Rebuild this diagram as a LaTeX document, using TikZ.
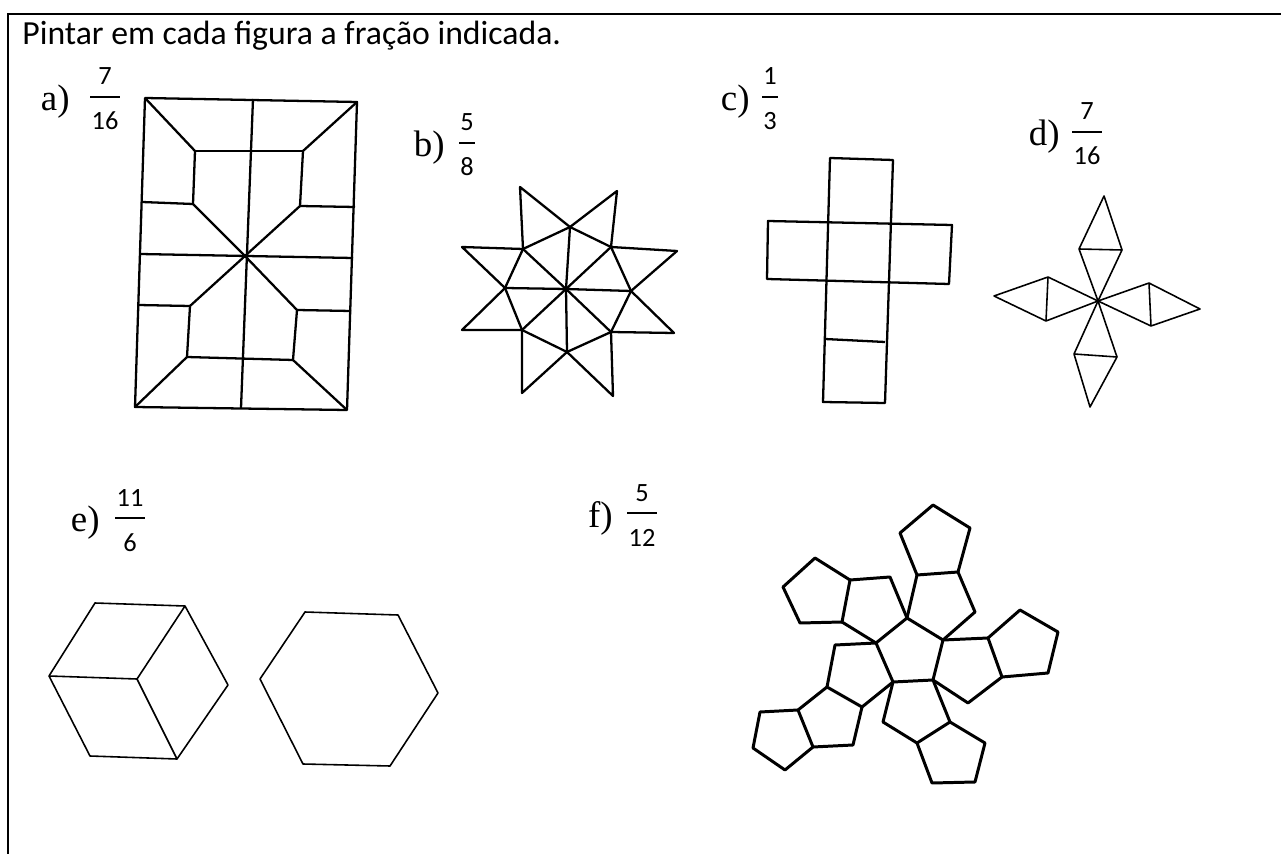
\documentclass[tikz,border=0pt]{standalone}
\usepackage{fontspec}
\setmainfont{Carlito}
\newfontfamily\lblfont{Liberation Serif}
\usetikzlibrary{calc, positioning}
\tikzset{
  frameline/.style = {line width=1.5pt, black},
  figline/.style   = {line width=1.3pt, black, line join=round},
  thinline/.style  = {line width=0.9pt, black, line join=round},
  boldline/.style  = {line width=1.7pt, black, line join=round},
  titlelbl/.style  = {font=\fontsize{19.2}{23}\selectfont, anchor=base west, inner sep=0pt},
  itemlbl/.style   = {font=\lblfont\fontsize{21}{24}\selectfont, anchor=base east, inner sep=0pt},
  fracdig/.style   = {font=\fontsize{15}{17}\selectfont, anchor=base, inner sep=0pt},
  fracbar/.style   = {font=\fontsize{15}{17}\selectfont, fill=black, inner ysep=0pt,
                      inner xsep=0.8pt, minimum height=0.7pt},
}
% #1 name, #2 x of letter end, #3/#4 bar centre, #5 letter, #6 numerator, #7 denominator
\newcommand{\fraclbl}[7]{%
  \node[itemlbl] (#1l) at (#2,#4+14) {#5)};
  \node[fracbar] (#1b) at (#3,#4) {\phantom{\vbox to 0pt{\hbox{#6}\hbox{#7}\vss}}};
  \node[fracdig] (#1n) at (#3,#4-12) {#6};
  \node[fracdig] (#1d) at (#3,#4+33) {#7};
}

\begin{document}
\begin{tikzpicture}[x=0.02cm, y=-0.02cm]
  \useasboundingbox (0,0) rectangle (1281,854);
  % frame
  \draw[frameline] (1281,14) -- (8,14) -- (8,854);
  \node[titlelbl] (title) at (22,45) {Pintar em cada figura a fração indicada.};
  % labels
  \fraclbl{a}{70}{105}{97}{a}{7}{16}
  \fraclbl{b}{445}{467}{143}{b}{5}{8}
  \fraclbl{c}{750}{770}{97}{c}{1}{3}
  \fraclbl{d}{1060}{1087}{132}{d}{7}{16}
  \fraclbl{e}{100}{130}{518}{e}{11}{6}
  \fraclbl{f}{613}{642}{513}{f}{5}{12}
  % a) rectangle
  \draw[figline] (145,98) -- (357,102) -- (347,410) -- (135,407) -- cycle;
  \draw[figline] (253,99) -- (241,408);
  \draw[figline] (140,254) -- (353,258);
  \draw[figline] (145,98) -- (195,151) -- (193,204) -- (245,256) -- (300,206) -- (303,151) -- (357,102);
  \draw[figline] (195,151) -- (303,151);
  \draw[figline] (142,202) -- (193,204);
  \draw[figline] (355,207) -- (300,206);
  \draw[figline] (135,407) -- (187,357) -- (190,306) -- (245,256) -- (297,310) -- (293,360) -- (347,410);
  \draw[figline] (187,357) -- (293,360);
  \draw[figline] (138,305) -- (190,306);
  \draw[figline] (351,311) -- (297,310);
  % b) star
  \draw[figline] (523,249) -- (520,187) -- (570,227) -- (617,191) -- (611,247) -- (677,251)
    -- (631,291) -- (674,333) -- (611,332) -- (613,396) -- (567,352) -- (522,393)
    -- (522,330) -- (462,330) -- (505,288) -- (462,247) -- cycle;
  \draw[figline] (570,227) -- (611,247) -- (631,291) -- (611,332) -- (567,352)
    -- (522,330) -- (505,288) -- (523,249) -- cycle;
  \foreach \x/\y in {570/227,611/247,631/291,611/332,567/352,522/330,505/288,523/249}
    \draw[figline] (566,289) -- (\x,\y);
  % c) cross
  \draw[figline] (830,158) -- (893,160) -- (885,403) -- (823,402) -- cycle;
  \draw[figline] (768,221) -- (952,225) -- (949,284) -- (767,279) -- cycle;
  \draw[figline] (825,339) -- (885,342);
  % d) four kites
  \foreach \ax/\ay/\bx/\by/\tx/\ty in {1079/249/1122/250/1104/196, 1074/354/1117/357/1090/407,
      1048/277/1046/321/994/296, 1149/283/1151/326/1200/309}
    \draw[thinline] (1098,301) -- (\ax,\ay) -- (\tx,\ty) -- (\bx,\by) -- cycle (\ax,\ay) -- (\bx,\by);
  % e) hexagons
  \draw[thinline] (95,603) -- (185,606) -- (228,685) -- (177,759) -- (90,756) -- (49,676) -- cycle;
  \draw[thinline] (49,676) -- (137,679) -- (185,606) (137,679) -- (177,759);
  \draw[thinline] (305,612) -- (398,615) -- (438,693) -- (390,766) -- (303,764) -- (260,679) -- cycle;
  % f) pentagons
  \draw[boldline] (907,618) -- (943,640) -- (933,680) -- (893,682) -- (876,643) -- cycle;
  \draw[boldline] (907,618) -- (917,575) -- (958,572) -- (975,612) -- (943,640);
  \draw[boldline] (917,575) -- (900,533) -- (933,505) -- (970,528) -- (958,572);
  \draw[boldline] (943,640) -- (988,638) -- (1002,677) -- (968,703) -- (933,680);
  \draw[boldline] (988,638) -- (1020,610) -- (1058,632) -- (1048,673) -- (1002,677);
  \draw[boldline] (933,680) -- (950,722) -- (917,743) -- (883,722) -- (893,682);
  \draw[boldline] (950,722) -- (985,743) -- (975,782) -- (932,783) -- (917,743);
  \draw[boldline] (893,682) -- (862,707) -- (827,687) -- (835,645) -- (876,643);
  \draw[boldline] (862,707) -- (853,745) -- (813,747) -- (798,710) -- (827,687);
  \draw[boldline] (798,710) -- (760,712) -- (753,748) -- (785,770) -- (813,747);
  \draw[boldline] (876,643) -- (842,622) -- (850,580) -- (890,577) -- (907,618);
  \draw[boldline] (842,622) -- (800,623) -- (783,587) -- (815,558) -- (850,580);
\end{tikzpicture}
\end{document}
